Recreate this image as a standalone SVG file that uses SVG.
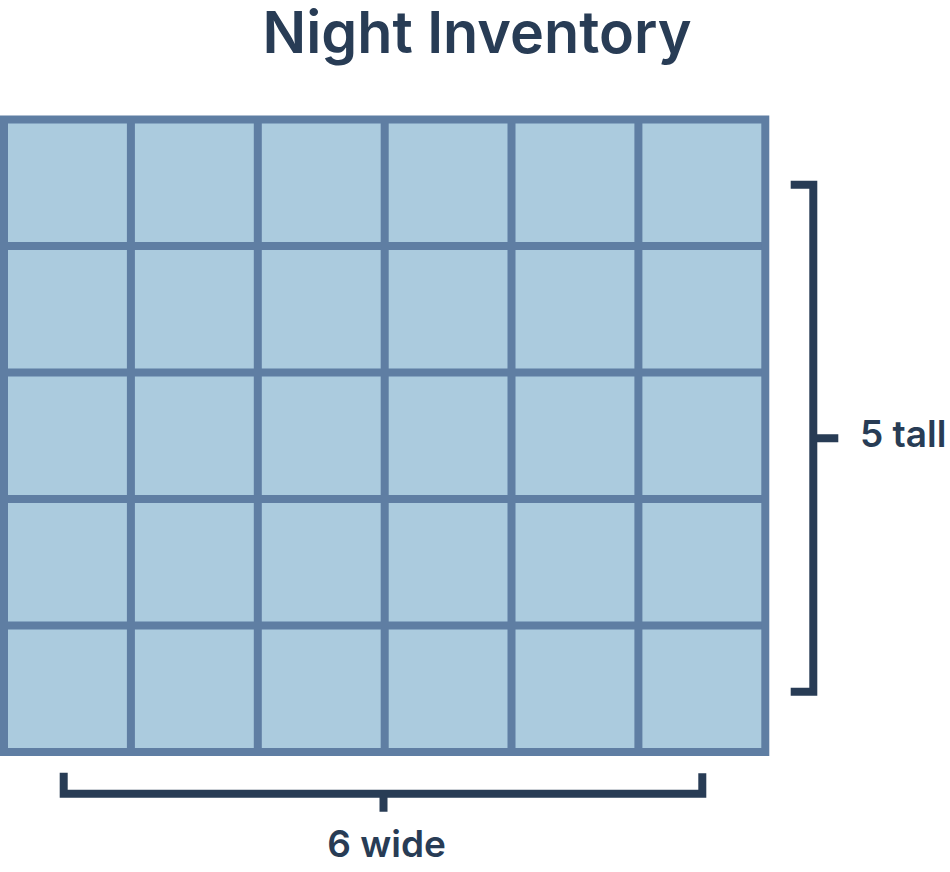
<svg xmlns="http://www.w3.org/2000/svg" width="950" height="872" viewBox="0 0 950 872">
<style>
.lbl{font-family:Inter,"Noto Sans","Liberation Sans",sans-serif;font-weight:600;fill:#283c55}
.grid{stroke:#5f7ea3;stroke-width:8;fill:none}
.br{stroke:#283c55;stroke-width:8;fill:none;stroke-linecap:butt;stroke-linejoin:miter}
</style>
<rect width="950" height="872" fill="#ffffff"/>
<g id="title">
<text class="lbl" x="477" y="53" font-size="58" text-anchor="middle" textLength="429" lengthAdjust="spacingAndGlyphs">Night Inventory</text>
</g>
<g id="grid">
<rect x="4" y="119.5" width="761.3" height="632.5" fill="#abcbde"/>
<path class="grid" d="M130.9 119.5V752M257.8 119.5V752M384.7 119.5V752M511.5 119.5V752M638.4 119.5V752M4 246H765.3M4 372.5H765.3M4 499H765.3M4 625.5H765.3"/>
<rect class="grid" x="4" y="119.5" width="761.3" height="632.5"/>
</g>
<g id="connectors">
<path class="br" d="M790.7 184.7H813.3V691.7H790.7M813.3 438.2H838.3"/>
<path class="br" d="M63.7 772.7V793.7H702.3V773.3M383.5 793.7V811.7"/>
</g>
<g id="height-label">
<text class="lbl" x="860" y="447" font-size="37">5 tall</text>
</g>
<g id="width-label">
<text class="lbl" x="386.6" y="857.3" font-size="37" text-anchor="middle">6 wide</text>
</g>
</svg>
